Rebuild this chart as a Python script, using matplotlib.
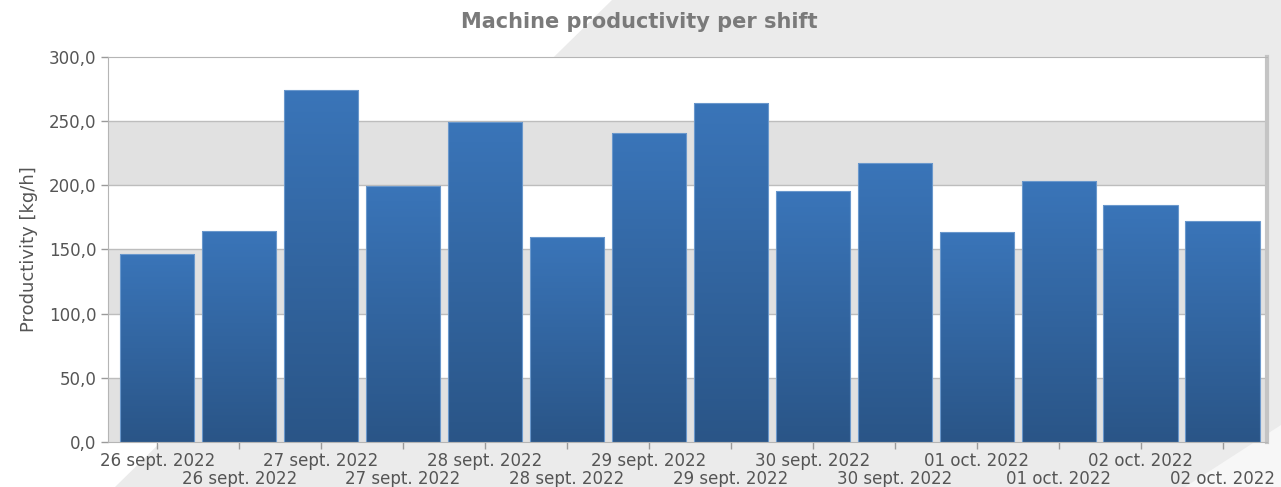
import numpy as np
import matplotlib.pyplot as plt
from matplotlib.patches import Polygon
from matplotlib.colors import LinearSegmentedColormap

# data
shift_labels = ["26 sept. 2022", "26 sept. 2022", "27 sept. 2022", "27 sept. 2022",
                "28 sept. 2022", "28 sept. 2022", "29 sept. 2022", "29 sept. 2022",
                "30 sept. 2022", "30 sept. 2022", "01 oct. 2022", "01 oct. 2022",
                "02 oct. 2022", "02 oct. 2022"]
productivity = [146.5, 164.5, 274.5, 199.5, 249.0, 159.5, 241.0,
                264.5, 195.5, 217.5, 163.5, 203.5, 185.0, 172.5]
y_ticks = [0, 50, 100, 150, 200, 250, 300]

W, H = 1281, 487
fig = plt.figure(figsize=(W / 100, H / 100), dpi=100)
fig.patch.set_facecolor("#ebebeb")

# white diagonal background shapes
fig.patches.append(Polygon([(0, 1), (612 / W, 1), (115 / W, 0), (0, 0)],
                           closed=True, transform=fig.transFigure,
                           facecolor="white", edgecolor="none", zorder=-10))
fig.patches.append(Polygon([(1185 / W, 0), (1, 0), (1, 1 - 425 / H)],
                           closed=True, transform=fig.transFigure,
                           facecolor="#f7f7f7", edgecolor="none", zorder=-10))

ax = fig.add_axes([108 / W, (H - 442) / H, 1159 / W, 385 / H])
ax.set_facecolor("white")

# alternating bands
for i, lo in enumerate(y_ticks[:-1]):
    if (len(y_ticks) - 2 - i) % 2 == 1:
        ax.axhspan(lo, lo + 50, color="#e1e1e1", zorder=0, lw=0)
for t in y_ticks[1:-1]:
    ax.axhline(t, color="#bdbdbd", lw=1, zorder=0.5)

# bars with a vertical gradient
cmap = LinearSegmentedColormap.from_list("bar", ["#2a5587", "#3a75b9"])
grad = np.linspace(0, 1, 256).reshape(-1, 1)
x = np.arange(len(productivity))
bars = ax.bar(x, productivity, width=0.91, color="none",
              edgecolor="#6a98cc", linewidth=0.8, zorder=3)
for b in bars:
    x0, w, h = b.get_x(), b.get_width(), b.get_height()
    im = ax.imshow(grad, cmap=cmap, origin="lower", aspect="auto",
                   extent=[x0, x0 + w, 0, h], zorder=2)
    im.set_clip_path(b)

ax.set_xlim(-0.6, 13.54)
ax.set_ylim(0, 300)

ax.set_yticks(y_ticks)
ax.set_yticklabels([f"{v:.1f}".replace(".", ",") for v in y_ticks])
ax.set_xticks(x)
ax.set_xticklabels(shift_labels)

ax.tick_params(axis="both", colors="#9a9a9a", labelcolor="#555555", labelsize=12,
               length=5, width=1)
ax.tick_params(axis="x", pad=2)
# every other label goes on a second row
for i, tick in enumerate(ax.xaxis.get_major_ticks()):
    if i % 2 == 1:
        tick.set_pad(15)

for side in ["top", "bottom", "left", "right"]:
    ax.spines[side].set_color("#b5b5b5")
ax.spines["right"].set_linewidth(3)
ax.spines["right"].set_color("#c4c4c4")

ax.set_ylabel("Productivity [kg/h]", fontsize=13, color="#555555", labelpad=8)
fig.text(639 / W, 1 - 22 / H, "Machine productivity per shift", ha="center", va="center",
         fontsize=15, fontweight="bold", color="#7a7a7a")

fig.savefig("out.png", dpi=100, facecolor=fig.get_facecolor())
